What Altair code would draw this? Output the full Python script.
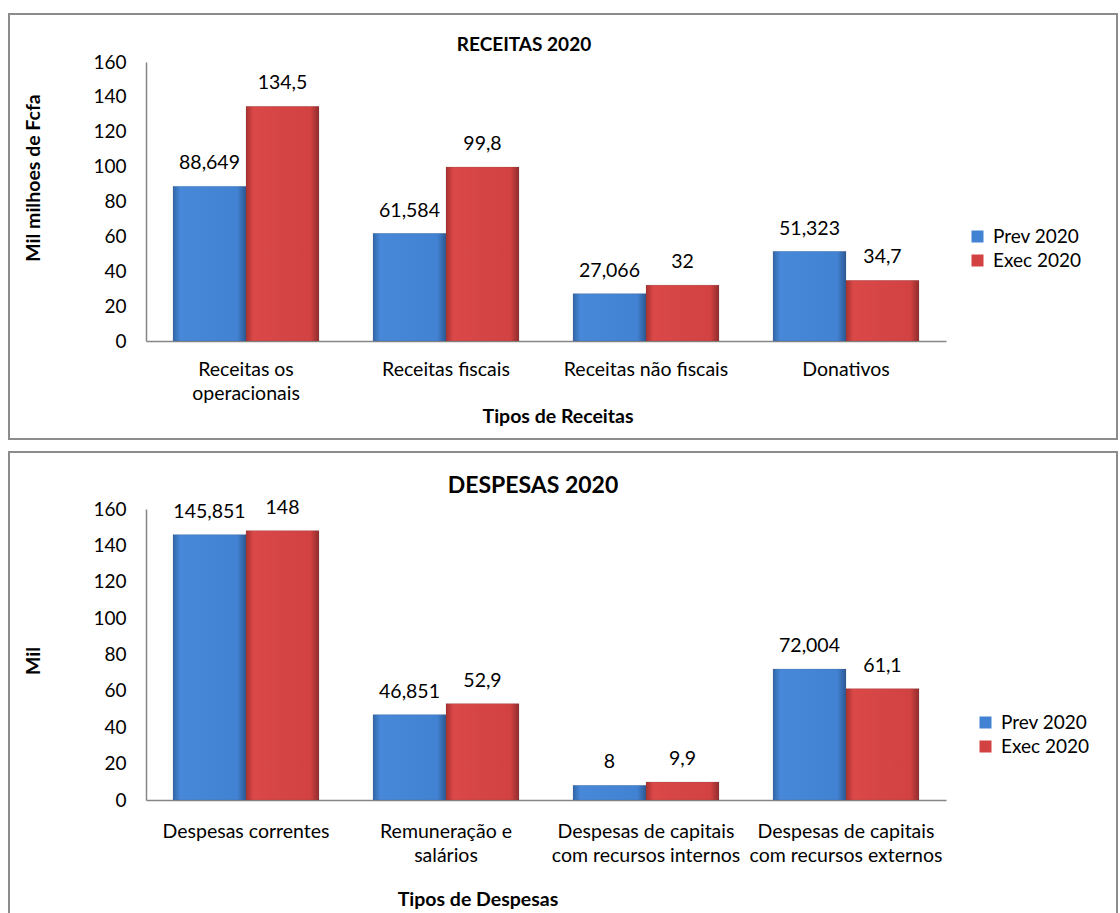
import altair as alt
import pandas as pd

FONT = "Lato"

series = ["Prev 2020", "Exec 2020"]
series_colors = ["#4282d3", "#d24242"]
y_ticks = [0, 20, 40, 60, 80, 100, 120, 140, 160]

rec_cats = ["Receitas os\noperacionais", "Receitas fiscais", "Receitas não fiscais", "Donativos"]
rec_prev = [88.649, 61.584, 27.066, 51.323]
rec_exec = [134.5, 99.8, 32, 34.7]
rec_prev_lbl = ["88,649", "61,584", "27,066", "51,323"]
rec_exec_lbl = ["134,5", "99,8", "32", "34,7"]

des_cats = ["Despesas correntes", "Remuneração e\nsalários",
            "Despesas de capitais\ncom recursos internos",
            "Despesas de capitais\ncom recursos externos"]
des_prev = [145.851, 46.851, 8, 72.004]
des_exec = [148, 52.9, 9.9, 61.1]
des_prev_lbl = ["145,851", "46,851", "8", "72,004"]
des_exec_lbl = ["148", "52,9", "9,9", "61,1"]

GRAD = {
    "Prev 2020": alt.Gradient(gradient="linear", x1=0, x2=1, y1=0, y2=0, stops=[
        alt.GradientStop(color="#3166a8", offset=0),
        alt.GradientStop(color="#4788d8", offset=0.1),
        alt.GradientStop(color="#4282d3", offset=0.88),
        alt.GradientStop(color="#2c5892", offset=1)]),
    "Exec 2020": alt.Gradient(gradient="linear", x1=0, x2=1, y1=0, y2=0, stops=[
        alt.GradientStop(color="#a83131", offset=0),
        alt.GradientStop(color="#da4848", offset=0.1),
        alt.GradientStop(color="#d24242", offset=0.88),
        alt.GradientStop(color="#922c2c", offset=1)]),
}

LBL = 19.5


def text_layer(txt, x, y, size, angle=0):
    return alt.Chart(pd.DataFrame({"t": [txt]})).mark_text(
        font=FONT, fontSize=size, fontWeight="bold", color="black",
        align="center", baseline="middle", angle=angle
    ).encode(text="t:N", x=alt.value(x), y=alt.value(y))


def panel(cats, prev, exe, plbl, elbl, height, title, title_size, title_xy,
          ytitle, ytitle_xy, xtitle, xtitle_xy, legend_xy, border, lab_pad):
    rows = []
    for c, v, l in zip(cats, prev, plbl):
        rows.append({"cat": c, "series": series[0], "value": v, "label": l})
    for c, v, l in zip(cats, exe, elbl):
        rows.append({"cat": c, "series": series[1], "value": v, "label": l})
    df = pd.DataFrame(rows)

    x = alt.X("cat:N", sort=cats,
              scale=alt.Scale(paddingInner=0.27, paddingOuter=0.135),
              axis=alt.Axis(title=None, labelAngle=0, ticks=False,
                            labelExpr="split(datum.label, '\\n')",
                            labelFont=FONT, labelFontSize=LBL, labelColor="black",
                            labelPadding=lab_pad, labelLineHeight=24,
                            labelLimit=300, labelOverlap=False,
                            domainColor="#868686", domainWidth=1.5))
    xo = alt.XOffset("series:N", sort=series, scale=alt.Scale(domain=series))
    y = alt.Y("value:Q", scale=alt.Scale(domain=[0, 160], nice=False),
              axis=alt.Axis(title=None, values=y_ticks, grid=False, ticks=False,
                            labelFont=FONT, labelFontSize=19, labelColor="black",
                            labelPadding=20, domainColor="#868686", domainWidth=1.5))

    base = alt.Chart(df)
    bars = base.mark_bar().encode(
        x=x, xOffset=xo, y=y,
        color=alt.Color("series:N", sort=series,
                        scale=alt.Scale(domain=series, range=series_colors),
                        legend=alt.Legend(title=None, orient="none",
                                          legendX=legend_xy[0], legendY=legend_xy[1],
                                          symbolType="square", symbolSize=144,
                                          symbolStrokeWidth=0,
                                          labelFont=FONT, labelFontSize=19,
                                          labelColor="black", labelOffset=6,
                                          rowPadding=4, padding=0)))
    overlays = []
    for s in series:
        overlays.append(base.mark_bar(fill=GRAD[s], stroke="#555555",
                                      strokeWidth=0.3, strokeOpacity=0.6)
                        .transform_filter(alt.datum.series == s)
                        .encode(x=x, xOffset=xo, y=y))
    labels = base.mark_text(font=FONT, fontSize=LBL, color="black",
                            baseline="alphabetic", dy=-17).encode(
        x=x, xOffset=xo, y=y, text="label:N")

    frame = alt.Chart(pd.DataFrame({"k": [0]})).mark_rect(
        fill="transparent", stroke="#8c8c8c", strokeWidth=2
    ).encode(x=alt.value(border[0]), x2=alt.value(border[1]),
             y=alt.value(border[2]), y2=alt.value(border[3]))

    return alt.layer(
        frame, bars, *overlays, labels,
        text_layer(title, title_xy[0], title_xy[1], title_size),
        text_layer(ytitle, ytitle_xy[0], ytitle_xy[1], 19.5, angle=270),
        text_layer(xtitle, xtitle_xy[0], xtitle_xy[1], 19.5),
    ).properties(width=800, height=height)


top = panel(rec_cats, rec_prev, rec_exec, rec_prev_lbl, rec_exec_lbl, 279,
            "RECEITAS 2020", 19, (378, -17),
            "Mil milhoes de Fcfa", (-112, 116),
            "Tipos de Receitas", (412, 355),
            (822, 165), (-137, 971, -48, 377), 19)

bottom = panel(des_cats, des_prev, des_exec, des_prev_lbl, des_exec_lbl, 291,
               "DESPESAS 2020", 23, (387, -23),
               "Mil", (-112, 152),
               "Tipos de Despesas", (332, 391),
               (830, 204), (-137, 971, -57, 410), 22)

chart = alt.vconcat(top, bottom, spacing=11).resolve_scale(
    x="independent", y="independent", color="independent", xOffset="independent"
).resolve_legend(color="independent").properties(
    padding={"left": 8, "top": 13, "right": 0, "bottom": 0},
    background="white"
).configure_view(stroke=None)

chart.save("out.html", embed_options={"renderer": "svg", "actions": False})
